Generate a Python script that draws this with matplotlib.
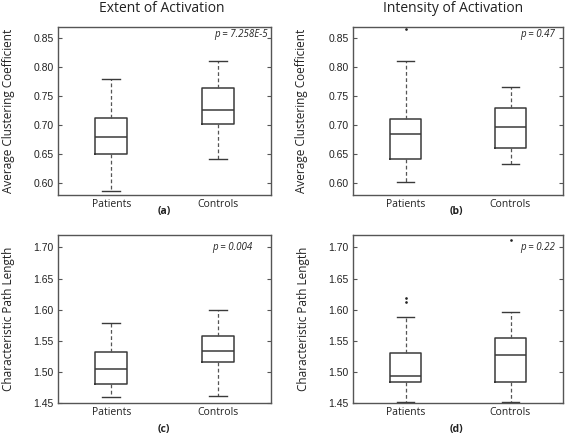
import matplotlib
matplotlib.use('Agg')
import matplotlib.pyplot as plt

W, H = 568, 436

groups = ['Patients', 'Controls']
titles = ['Extent of Activation', 'Intensity of Activation']
panel_labels = ['(a)', '(b)', '(c)', '(d)']
ylabels = ['Average Clustering Coefficient', 'Average Clustering Coefficient',
           'Characteristic Path Length', 'Characteristic Path Length']
p_texts = ['p = 7.258E-5', 'p = 0.47', 'p = 0.004', 'p = 0.22']

# box statistics: (whisker low, Q1, median, Q3, whisker high)
a_patients = [0.586, 0.649, 0.679, 0.7115, 0.780]
a_controls = [0.642, 0.702, 0.725, 0.763, 0.810]
b_patients = [0.602, 0.641, 0.684, 0.711, 0.811]
b_controls = [0.633, 0.660, 0.696, 0.730, 0.766]
c_patients = [1.460, 1.481, 1.505, 1.532, 1.579]
c_controls = [1.461, 1.516, 1.534, 1.558, 1.599]
d_patients = [1.452, 1.483, 1.494, 1.531, 1.588]
d_controls = [1.452, 1.484, 1.527, 1.554, 1.596]

# outliers
a_patients_out = []
a_controls_out = []
b_patients_out = [0.865]
b_controls_out = []
c_patients_out = []
c_controls_out = []
d_patients_out = [1.612, 1.619]
d_controls_out = [1.712]

top_ticks = [0.60, 0.65, 0.70, 0.75, 0.80, 0.85]
bottom_ticks = [1.45, 1.50, 1.55, 1.60, 1.65, 1.70]
top_ylim = (0.579, 0.869)
bottom_ylim = (1.45, 1.72)

panels = [
    (a_patients, a_patients_out, a_controls, a_controls_out),
    (b_patients, b_patients_out, b_controls, b_controls_out),
    (c_patients, c_patients_out, c_controls, c_controls_out),
    (d_patients, d_patients_out, d_controls, d_controls_out),
]

# axes rectangles in pixels: left, top, right, bottom
rects = [(58, 27, 271, 195), (353, 27, 563, 195),
         (58, 235, 271, 403), (353, 235, 563, 403)]


def fx(x):
    return x / W


def fy(y):
    return 1 - y / H


fig = plt.figure(figsize=(W / 100, H / 100), dpi=100)

ax_col = '#555555'
box_col = '#3a3a3a'
whisk_col = '#555555'
title_font = 'Open Sans'
tick_font = 'Liberation Sans'


def make_stats(vals, out, label):
    lo, q1, med, q3, hi = vals
    return dict(whislo=lo, q1=q1, med=med, q3=q3, whishi=hi,
                fliers=out, label=label)


for i, (pv, po, cv, co) in enumerate(panels):
    l, t, r, b = rects[i]
    ax = fig.add_axes([fx(l), fy(b), fx(r) - fx(l), (b - t) / H])
    stats = [make_stats(pv, po, groups[0]), make_stats(cv, co, groups[1])]
    ax.bxp(stats, positions=[1, 2], widths=0.3, capwidths=0.17,
           boxprops=dict(color=box_col, linewidth=1.1),
           whiskerprops=dict(color=whisk_col, linewidth=0.9, linestyle=(0, (3, 2))),
           capprops=dict(color=box_col, linewidth=1.0),
           medianprops=dict(color=box_col, linewidth=1.1),
           flierprops=dict(marker='.', markersize=1.8, markerfacecolor='#222222',
                           markeredgecolor='#222222', linestyle='none'))
    ax.set_xlim(0.5, 2.5)
    if i < 2:
        ax.set_ylim(*top_ylim)
        ax.set_yticks(top_ticks)
        ax.set_yticklabels(['%.2f' % v for v in top_ticks])
    else:
        ax.set_ylim(*bottom_ylim)
        ax.set_yticks(bottom_ticks)
        ax.set_yticklabels(['%.2f' % v for v in bottom_ticks])
    ax.set_xticks([1, 2])
    ax.set_xticklabels(groups, fontfamily=title_font, fontsize=7.5, color='#222222')
    ax.tick_params(axis='x', length=0, pad=3)
    ax.tick_params(axis='y', direction='in', length=3, width=0.8, color=ax_col,
                   right=True, labelsize=7.5, pad=3, labelcolor='#222222')
    for lab in ax.get_yticklabels():
        lab.set_fontfamily(tick_font)
    for s in ax.spines.values():
        s.set_color(ax_col)
        s.set_linewidth(1.0)

# titles
fig.text(fx(162), fy(8), titles[0], ha='center', va='center',
         fontfamily=title_font, fontsize=10, color='#222222')
fig.text(fx(453), fy(8), titles[1], ha='center', va='center',
         fontfamily=title_font, fontsize=10, color='#222222')

# y labels
ylab_pos = [(8.5, 111), (301.5, 111), (9, 319), (304, 319)]
for (x, y), lab in zip(ylab_pos, ylabels):
    fig.text(fx(x), fy(y), lab, rotation=90, ha='center', va='center',
             fontfamily=title_font, fontsize=8.5, color='#222222')

# panel labels
plab_pos = [(164, 211), (456, 211), (164, 429), (456, 429)]
for (x, y), lab in zip(plab_pos, panel_labels):
    fig.text(fx(x), fy(y), lab, ha='center', va='center', fontweight='bold',
             fontfamily=title_font, fontsize=7.5, color='#222222')

# p-values
p_pos = [(268, 35), (555, 35), (252, 247), (555, 247)]
for (x, y), lab in zip(p_pos, p_texts):
    fig.text(fx(x), fy(y), lab, ha='right', va='center', fontstyle='italic',
             fontfamily=title_font, fontsize=7, color='#222222')

fig.savefig('out.png', dpi=100)
